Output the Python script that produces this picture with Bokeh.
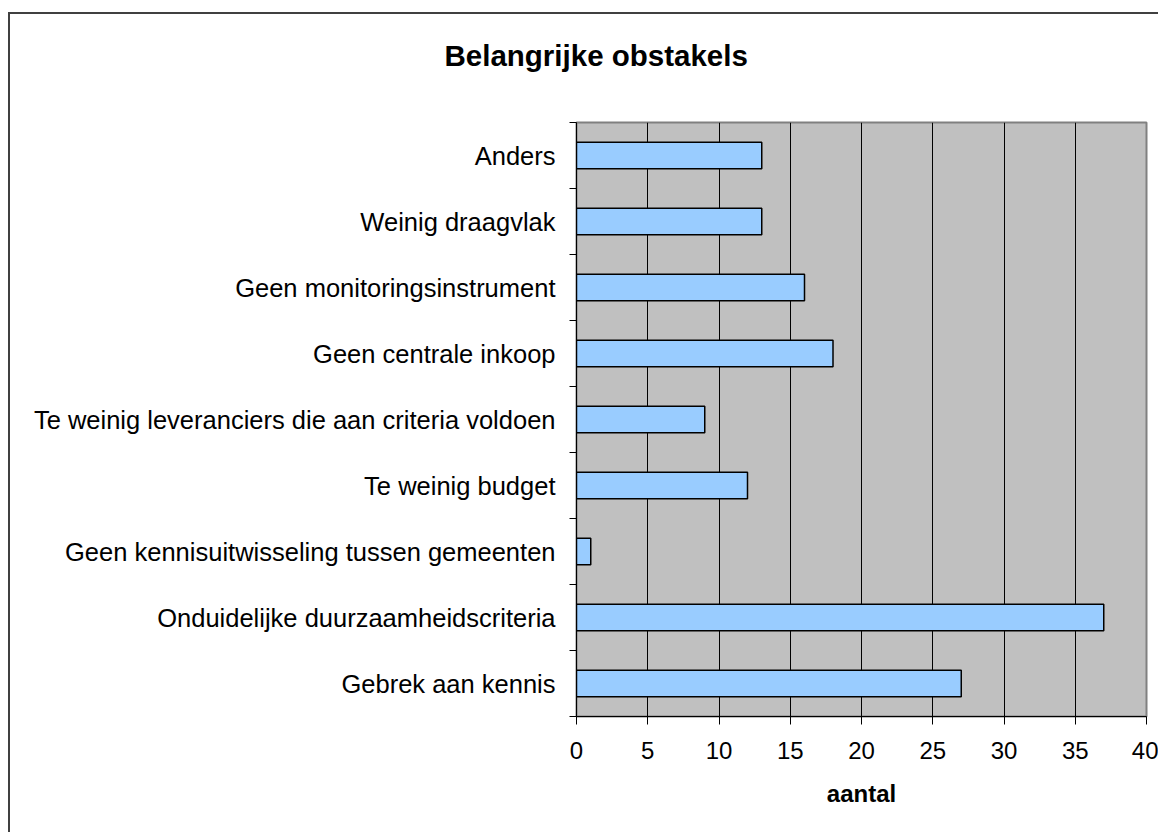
from bokeh.plotting import figure
from bokeh.models import FixedTicker, Range1d, Title
from bokeh.embed import file_html
from bokeh.resources import INLINE

# Data (top-to-bottom as shown in the chart)
categories = [
    "Anders",
    "Weinig draagvlak",
    "Geen monitoringsinstrument",
    "Geen centrale inkoop",
    "Te weinig leveranciers die aan criteria voldoen",
    "Te weinig budget",
    "Geen kennisuitwisseling tussen gemeenten",
    "Onduidelijke duurzaamheidscriteria",
    "Gebrek aan kennis",
]
counts = [13, 13, 16, 18, 9, 12, 1, 37, 27]
x_ticks = [0, 5, 10, 15, 20, 25, 30, 35, 40]
title_text = "Belangrijke obstakels"
x_label = "aantal"

n = len(categories)
ypos = [n - 1 - i + 0.5 for i in range(n)]
boundaries = list(range(n + 1))

FONT = "Liberation Sans"

p = figure(
    width=1150, height=820,
    output_backend="svg", toolbar_location=None,
    x_range=Range1d(x_ticks[0], x_ticks[-1]),
    y_range=Range1d(0, n),
    min_border_left=566, min_border_right=14,
    min_border_top=108, min_border_bottom=118,
    background_fill_color="#C0C0C0",
    border_fill_color="white",
)
p.margin = (12, 0, 0, 8)
p.styles = {"border-top": "2px solid #404040", "border-left": "2px solid #404040"}

p.outline_line_color = "#808080"
p.outline_line_width = 2

p.hbar(y=ypos, right=counts, left=0, height=0.4,
       fill_color="#99CCFF", line_color="black", line_width=1.5)

# spacer between plot area and title (nearest to the frame)
spacer = Title(text=" ", text_font=FONT, text_font_size="10px", standoff=33)
p.add_layout(spacer, "above")

# title
title = Title(text=title_text, text_font=FONT, text_font_size="29.5px",
              text_font_style="bold", text_color="black",
              align="left", offset=-132, standoff=10)
p.add_layout(title, "above")

# x axis
p.xaxis.ticker = FixedTicker(ticks=x_ticks)
p.xaxis.major_tick_out = 8
p.xaxis.major_tick_in = 0
p.xaxis.minor_tick_line_color = None
p.xaxis.axis_line_color = "black"
p.xaxis.major_tick_line_color = "black"
p.xaxis.major_label_text_font = FONT
p.xaxis.major_label_text_font_size = "24px"
p.xaxis.major_label_text_color = "black"
p.xaxis.major_label_standoff = 17
p.xaxis.axis_label = x_label
p.xaxis.axis_label_text_font = FONT
p.xaxis.axis_label_text_font_size = "24px"
p.xaxis.axis_label_text_font_style = "bold"
p.xaxis.axis_label_text_color = "black"
p.xaxis.axis_label_standoff = 18

# y axis
p.yaxis.ticker = FixedTicker(ticks=ypos, minor_ticks=boundaries)
p.yaxis.major_label_overrides = {y: c for y, c in zip(ypos, categories)}
p.yaxis.major_tick_line_color = None
p.yaxis.major_tick_out = 0
p.yaxis.major_tick_in = 0
p.yaxis.minor_tick_line_color = "black"
p.yaxis.minor_tick_out = 7
p.yaxis.minor_tick_in = 0
p.yaxis.axis_line_color = "black"
p.yaxis.major_label_text_font = FONT
p.yaxis.major_label_text_font_size = "25.5px"
p.yaxis.major_label_text_color = "black"
p.yaxis.major_label_standoff = 14

# grid
p.xgrid.ticker = FixedTicker(ticks=x_ticks)
p.xgrid.grid_line_color = "black"
p.xgrid.grid_line_width = 1
p.ygrid.grid_line_color = None

open("out.html", "w").write(file_html(p, INLINE))
